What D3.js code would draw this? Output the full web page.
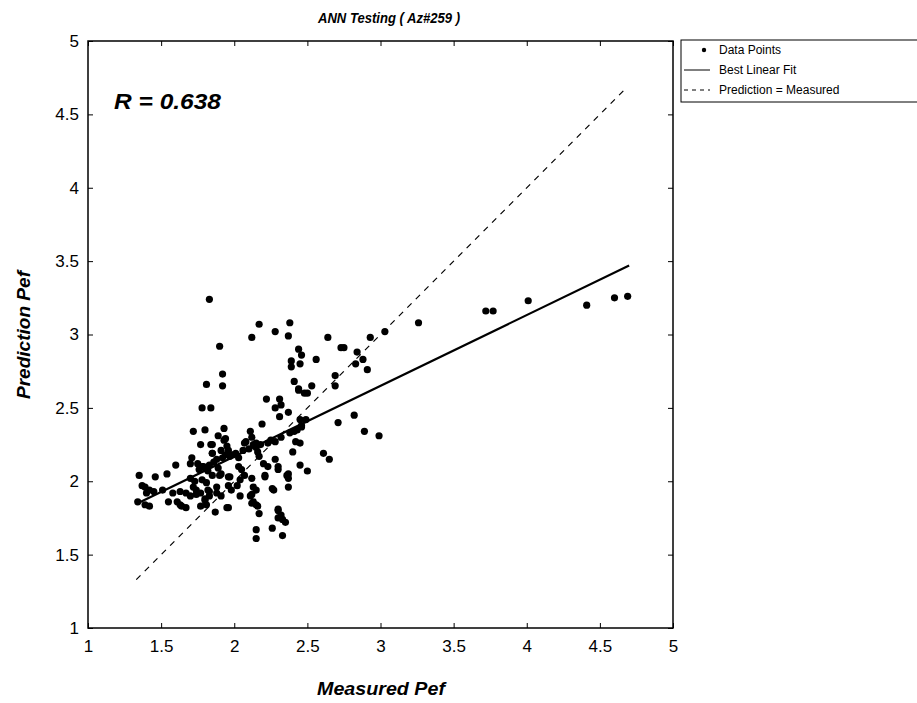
<!DOCTYPE html>
<html><head><meta charset="utf-8">
<script src="https://cdn.jsdelivr.net/npm/d3@7"></script>
<style>body{margin:0;background:#fff}svg{display:block}</style>
</head><body>
<script>
const title = "ANN Testing ( Az#259 )";
const xLabel = "Measured Pef";
const yLabel = "Prediction Pef";
const rText = "R = 0.638";
const ticks = [1,1.5,2,2.5,3,3.5,4,4.5,5];
const legendLabels = ["Data Points","Best Linear Fit","Prediction = Measured"];
const fitX = [1.34, 4.70], fitY = [1.85, 3.47];
const idX = [1.33, 4.67], idY = [1.33, 4.67];
const measured = [
1.83,2.17,2.38,2.12,2.28,2.37,1.90,2.44,2.39,2.39,1.92,1.92,1.81,2.41,2.44,1.78,1.84,2.22,2.31,2.28,2.32,2.37,2.31,2.19,1.72,1.80,1.93,1.89,1.94,1.77,1.84,1.85,2.11,2.12,2.07,2.15,
2.64,2.46,2.45,2.56,2.73,2.75,2.84,2.93,3.03,3.26,2.88,2.83,2.91,2.69,2.69,2.53,2.44,2.48,2.50,2.82,2.71,2.89,2.99,2.61,2.45,2.46,2.43,2.45,2.40,2.65,3.72,3.77,4.01,4.41,4.60,4.69,
1.35,1.46,1.54,1.60,1.34,1.37,1.39,1.42,1.42,1.39,1.55,1.61,1.63,1.67,1.77,1.80,1.81,1.87,1.95,2.12,2.12,2.13,2.16,2.17,2.15,2.15,2.26,2.30,2.30,2.33,2.33,2.37,2.37,2.21,1.51,1.58,1.71,1.70,1.96,
1.85,1.85,1.95,1.75,1.78,1.80,1.82,1.85,1.70,1.73,1.72,1.74,1.78,1.81,1.82,1.88,1.90,1.91,1.83,1.88,1.89,1.91,1.40,1.45,1.63,1.67,1.70,1.74,1.77,1.83,1.64,1.80,
2.08,2.13,2.15,2.16,2.23,2.28,2.32,2.38,2.41,2.46,2.49,2.42,2.45,2.50,1.96,1.99,2.03,2.03,2.05,2.07,2.04,2.17,2.20,2.23,2.28,2.30,2.30,2.21,2.36,2.37,2.13,2.15,1.96,1.97,1.96,1.98,2.02,2.04,
2.11,2.12,2.15,2.27,1.83,1.88,1.93,1.91,1.94,2.30,2.32,2.35,2.26,
1.76,1.79,1.86,1.92,1.97,2.01,2.06,2.10,2.18,2.25
];
const predicted = [
3.24,3.07,3.08,2.98,3.02,2.99,2.92,2.90,2.82,2.78,2.73,2.65,2.66,2.68,2.62,2.50,2.50,2.56,2.56,2.50,2.52,2.47,2.44,2.39,2.34,2.35,2.36,2.31,2.29,2.25,2.25,2.19,2.34,2.30,2.26,2.26,
2.98,2.86,2.80,2.83,2.91,2.91,2.88,2.98,3.02,3.08,2.83,2.80,2.76,2.72,2.65,2.65,2.63,2.60,2.60,2.45,2.40,2.34,2.31,2.19,2.42,2.37,2.35,2.26,2.20,2.15,3.16,3.16,3.23,3.20,3.25,3.26,
2.04,2.03,2.05,2.11,1.86,1.97,1.96,1.94,1.83,1.84,1.86,1.86,1.84,1.82,1.83,1.87,1.84,1.79,1.82,2.02,1.91,1.86,1.83,1.78,1.67,1.61,1.95,1.81,1.75,1.74,1.63,2.05,1.96,2.03,1.94,1.92,2.16,2.12,1.82,
2.25,2.19,2.24,2.12,2.10,2.09,2.07,2.04,2.02,2.00,1.96,1.94,2.01,1.99,1.94,1.96,2.04,1.90,2.11,2.15,2.09,2.05,1.92,1.93,1.93,1.92,1.90,1.91,1.92,1.93,1.83,1.88,
2.27,2.25,2.23,2.20,2.26,2.27,2.30,2.33,2.34,2.38,2.42,2.27,2.11,2.07,2.21,2.18,2.16,2.10,2.08,2.04,2.01,2.17,2.12,2.10,2.15,2.10,2.08,2.04,2.04,2.02,1.96,1.94,2.03,2.03,1.97,1.94,1.97,1.90,
1.90,1.85,1.84,1.94,1.90,1.92,2.28,2.21,2.18,1.80,1.77,1.72,1.68,
2.08,2.10,2.13,2.16,2.17,2.19,2.21,2.22,2.25,2.28
];

const W = 917, H = 703;
const L = 88, R = 673, T = 41, B = 628;
const svg = d3.select("body").append("svg").attr("width", W).attr("height", H);
const x = d3.scaleLinear().domain([1,5]).range([L,R]);
const y = d3.scaleLinear().domain([1,5]).range([B,T]);
const font = "'Liberation Sans', Arial, sans-serif";

const ax = (g, axis) => { g.call(axis); g.select(".domain").remove(); g.selectAll("line").attr("stroke","#000").attr("stroke-width",1); };
svg.append("g").attr("transform",`translate(0,${B})`).call(g=>ax(g,d3.axisBottom(x).tickValues(ticks).tickSize(-5).tickPadding(12).tickFormat(d3.format("~g"))))
  .selectAll("text").attr("font-family",font).attr("font-size",17).attr("fill","#000");
svg.append("g").attr("transform",`translate(0,${T})`).call(g=>ax(g,d3.axisTop(x).tickValues(ticks).tickSize(-5).tickFormat("")));
svg.append("g").attr("transform",`translate(${L},0)`).call(g=>ax(g,d3.axisLeft(y).tickValues(ticks).tickSize(-5).tickPadding(9).tickFormat(d3.format("~g"))))
  .selectAll("text").attr("font-family",font).attr("font-size",17).attr("fill","#000");
svg.append("g").attr("transform",`translate(${R},0)`).call(g=>ax(g,d3.axisRight(y).tickValues(ticks).tickSize(-5).tickFormat("")));

svg.append("rect").attr("x",L).attr("y",T).attr("width",R-L).attr("height",B-T)
  .attr("fill","none").attr("stroke","#000").attr("stroke-width",1.5);

svg.append("path").datum(d3.zip(idX,idY)).attr("d",d3.line().x(d=>x(d[0])).y(d=>y(d[1])))
  .attr("stroke","#000").attr("stroke-width",1.2).attr("stroke-dasharray","6,6").attr("fill","none");
svg.append("path").datum(d3.zip(fitX,fitY)).attr("d",d3.line().x(d=>x(d[0])).y(d=>y(d[1])))
  .attr("stroke","#000").attr("stroke-width",2.2).attr("fill","none");
svg.append("g").selectAll("circle").data(d3.zip(measured,predicted)).join("circle")
  .attr("cx",d=>x(d[0])).attr("cy",d=>y(d[1])).attr("r",3.6).attr("fill","#000");

const txt = (s, xx, yy, size, len, anchor) => svg.append("text").attr("x",xx).attr("y",yy)
  .attr("text-anchor",anchor).attr("font-family",font).attr("font-size",size)
  .attr("font-style","italic").attr("font-weight","bold")
  .attr("textLength",len).attr("lengthAdjust","spacingAndGlyphs").text(s);
txt(title, 389, 23, 15, 142, "middle");
txt(rText, 114, 109, 22, 107, "start");
txt(xLabel, 381, 695, 18, 128, "middle");
svg.append("text").attr("transform","translate(30,335) rotate(-90)").attr("text-anchor","middle").attr("font-family",font)
  .attr("font-size",18).attr("font-style","italic").attr("font-weight","bold")
  .attr("textLength",128).attr("lengthAdjust","spacingAndGlyphs").text(yLabel);

const lg = svg.append("g");
lg.append("rect").attr("x",681).attr("y",40).attr("width",260).attr("height",62).attr("fill","#fff").attr("stroke","#000").attr("stroke-width",1);
const ly = [50,70,90];
lg.append("circle").attr("cx",704).attr("cy",ly[0]).attr("r",2.2).attr("fill","#000");
lg.append("line").attr("x1",684).attr("x2",710).attr("y1",ly[1]).attr("y2",ly[1]).attr("stroke","#000").attr("stroke-width",1);
lg.append("line").attr("x1",684).attr("x2",710).attr("y1",ly[2]).attr("y2",ly[2]).attr("stroke","#000").attr("stroke-width",1).attr("stroke-dasharray","4,4");
lg.selectAll("text.l").data(legendLabels).join("text").attr("x",719).attr("y",(d,i)=>ly[i]+4)
  .attr("font-family",font).attr("font-size",12).text(d=>d);
</script>
</body></html>
